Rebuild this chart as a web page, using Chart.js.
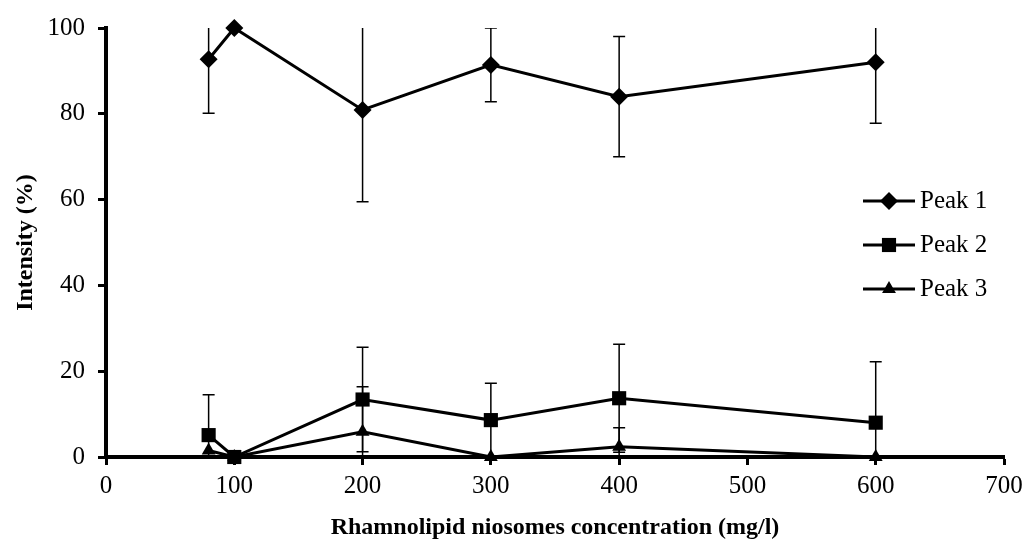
<!DOCTYPE html>
<html>
<head>
<meta charset="utf-8">
<title>Intensity vs rhamnolipid niosomes concentration</title>
<script src="https://cdn.jsdelivr.net/npm/chart.js@4.4.1/dist/chart.umd.min.js"></script>
<style>
  html, body { margin: 0; padding: 0; background: #fff; }
  #wrap { width: 1026px; height: 540px; position: relative; }
</style>
</head>
<body>
<div id="wrap"><canvas id="peakChart"></canvas></div>
<script>
// ---------- Data ----------
const concentrations = [80, 100, 200, 300, 400, 600];
const peak1 = [92.7, 100, 80.9, 91.4, 84.0, 92.0];
const peak2 = [5.1, 0, 13.4, 8.6, 13.7, 8.0];
const peak3 = [1.5, 0, 5.9, 0, 2.4, 0];
// symmetric error bars (SD)
const peak1Err = [12.6, 0, 21.4, 8.6, 14.0, 14.2];
const peak2Err = [9.4, 0, 12.2, 8.6, 12.6, 14.2];
const peak3Err = [0, 0, 10.5, 0, 4.4, 0];
const xTicks = [0, 100, 200, 300, 400, 500, 600, 700];
const yTicks = [0, 20, 40, 60, 80, 100];
const seriesNames = ["Peak 1", "Peak 2", "Peak 3"];

const SERIF = '"Liberation Serif", "Times New Roman", serif';
Chart.defaults.font.family = SERIF;
Chart.defaults.color = "#000";

function toPoints(values) {
  return concentrations.map((x, i) => ({ x: x, y: values[i] }));
}

// ---------- Error bars ----------
const errorBars = {
  id: "errorBars",
  afterDatasetsDraw(chart, args, opts) {
    const { ctx, chartArea, scales } = chart;
    ctx.save();
    ctx.beginPath();
    ctx.rect(chartArea.left, chartArea.top, chartArea.right - chartArea.left, chartArea.bottom - chartArea.top);
    ctx.clip();
    ctx.strokeStyle = "#000";
    ctx.lineWidth = opts.width;
    chart.data.datasets.forEach(ds => {
      ds.data.forEach((pt, i) => {
        const err = ds.errors[i];
        if (!err) return;
        const px = scales.x.getPixelForValue(pt.x);
        const top = scales.y.getPixelForValue(pt.y + err);
        const bot = scales.y.getPixelForValue(pt.y - err);
        ctx.beginPath();
        ctx.moveTo(px, top); ctx.lineTo(px, bot);
        ctx.moveTo(px - opts.cap, top); ctx.lineTo(px + opts.cap, top);
        ctx.moveTo(px - opts.cap, bot); ctx.lineTo(px + opts.cap, bot);
        ctx.stroke();
      });
    });
    ctx.restore();
  }
};

// ---------- Legend (line + marker) ----------
const lineLegend = {
  id: "lineLegend",
  afterDraw(chart, args, opts) {
    const { ctx } = chart;
    ctx.save();
    chart.data.datasets.forEach((ds, i) => {
      const y = opts.top + i * opts.rowGap;
      ctx.strokeStyle = ds.borderColor;
      ctx.fillStyle = ds.pointBackgroundColor;
      ctx.lineWidth = ds.borderWidth;
      ctx.beginPath();
      ctx.moveTo(opts.left, y);
      ctx.lineTo(opts.left + opts.lineLength, y);
      ctx.stroke();
      Chart.helpers.drawPoint(ctx, {
        pointStyle: ds.pointStyle,
        radius: ds.pointRadius,
        rotation: 0,
        borderWidth: 0
      }, opts.left + opts.lineLength / 2, y);
      ctx.fillStyle = "#000";
      ctx.font = opts.font;
      ctx.textBaseline = "middle";
      ctx.textAlign = "left";
      ctx.fillText(ds.label, opts.left + opts.lineLength + opts.gap, y);
    });
    ctx.restore();
  }
};

function series(label, values, errors, style, radius) {
  return {
    label: label,
    data: toPoints(values),
    errors: errors,
    borderColor: "#000",
    backgroundColor: "#000",
    borderWidth: 3,
    pointStyle: style,
    pointRadius: radius,
    pointBackgroundColor: "#000",
    pointBorderColor: "#000",
    pointBorderWidth: 0,
    tension: 0,
    clip: false
  };
}

const ctx = document.getElementById("peakChart");
new Chart(ctx, {
  type: "line",
  data: {
    datasets: [
      series(seriesNames[0], peak1, peak1Err, "rectRot", 9),
      series(seriesNames[1], peak2, peak2Err, "rect", 10),
      series(seriesNames[2], peak3, peak3Err, "triangle", 8)
    ]
  },
  options: {
    responsive: true,
    maintainAspectRatio: false,
    animation: false,
    devicePixelRatio: 1,
    layout: { padding: { left: 0, top: 28, right: 22, bottom: 0 } },
    plugins: {
      legend: { display: false },
      tooltip: { enabled: false },
      errorBars: { width: 1.5, cap: 6 },
      lineLegend: { left: 863, top: 201, rowGap: 44, lineLength: 52, gap: 5, font: "25px " + SERIF }
    },
    scales: {
      x: {
        type: "linear",
        min: 0,
        max: 700,
        afterBuildTicks: s => { s.ticks = xTicks.map(v => ({ value: v })); },
        afterFit: s => { s.height = 83; s.paddingLeft = 0; s.paddingRight = 0; },
        grid: { display: true, drawOnChartArea: false, drawTicks: true, tickLength: 8, tickWidth: 3, tickColor: "#000" },
        border: { display: true, color: "#000", width: 4 },
        ticks: { font: { size: 25 }, padding: 6, maxRotation: 0 },
        title: {
          display: true,
          text: "Rhamnolipid niosomes concentration (mg/l)",
          font: { size: 24, weight: "bold", lineHeight: 1 },
          padding: { top: 0, bottom: 0 }
        }
      },
      y: {
        min: 0,
        max: 100,
        afterBuildTicks: s => { s.ticks = yTicks.map(v => ({ value: v })); },
        afterFit: s => { s.width = 106; },
        grid: { display: true, drawOnChartArea: false, drawTicks: true, tickLength: 8, tickWidth: 3, tickColor: "#000" },
        border: { display: true, color: "#000", width: 4 },
        ticks: { font: { size: 25 }, padding: 13 },
        title: {
          display: true,
          text: "Intensity (%)",
          font: { size: 24, weight: "bold", lineHeight: 1 },
          padding: { top: 14, bottom: 0 }
        }
      }
    }
  },
  plugins: [errorBars, lineLegend]
});
</script>
</body>
</html>
